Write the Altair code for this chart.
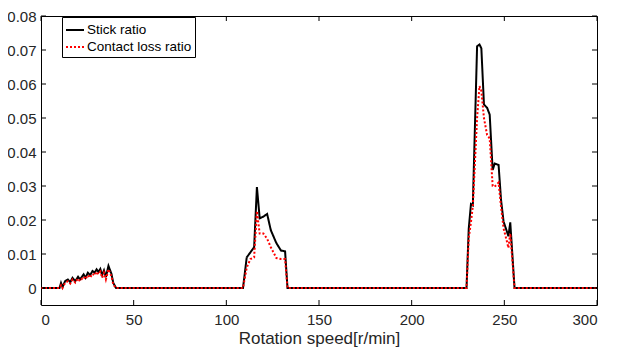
import altair as alt
import pandas as pd

speed = [0, 10, 10.8, 11.6, 13, 14.5, 15.8, 17, 18.5, 20, 21, 23, 24, 25.3, 26.5, 27.8, 29, 30, 31, 32, 33, 34, 35, 36.4, 38, 39, 40.5,
         109, 111, 113, 115, 116.5, 118, 120, 122, 124, 127, 129.5, 131.7, 133,
         229.6, 230.8, 232, 233, 235.3, 236.6, 237.6, 239, 240.7, 242.1, 243.7, 244.8, 246.9, 248.2, 249.6, 251.4, 252.2, 253.2, 255.5, 300]

stick = [0, 0, 0.0015, 0.0003, 0.002, 0.0025, 0.0017, 0.003, 0.002, 0.0033, 0.0025, 0.004, 0.003, 0.0045, 0.0038, 0.005, 0.0045, 0.0055, 0.0047, 0.0056, 0.0038, 0.0052, 0.0032, 0.0065, 0.0042, 0.0015, 0,
         0, 0.009, 0.0105, 0.012, 0.0297, 0.0205, 0.021, 0.0218, 0.017, 0.0132, 0.011, 0.0108, 0,
         0, 0.0175, 0.0247, 0.0243, 0.0711, 0.0716, 0.0705, 0.054, 0.053, 0.051, 0.0347, 0.0366, 0.0362, 0.026, 0.0195, 0.0166, 0.0152, 0.0193, 0, 0]

contact = [0, 0, 0.0008, 0, 0.0015, 0.002, 0.0013, 0.0025, 0.0016, 0.0028, 0.002, 0.0033, 0.0026, 0.0038, 0.003, 0.0042, 0.0037, 0.0048, 0.004, 0.0048, 0.003, 0.0045, 0.0025, 0.0055, 0.0035, 0.001, 0,
           0, 0.006, 0.0085, 0.009, 0.0226, 0.016, 0.016, 0.0145, 0.012, 0.0088, 0.0085, 0.0085, 0,
           0, 0.0147, 0.0194, 0.024, 0.05, 0.0594, 0.058, 0.05, 0.045, 0.044, 0.03, 0.0298, 0.031, 0.024, 0.0175, 0.0137, 0.0118, 0.016, 0, 0]

series = ["Stick ratio", "Contact loss ratio"]
x_ticks = [0, 50, 100, 150, 200, 250, 300]
y_ticks = [0, 0.01, 0.02, 0.03, 0.04, 0.05, 0.06, 0.07, 0.08]

df = pd.concat([
    pd.DataFrame({"speed": speed, "value": stick, "series": series[0], "k": 0}),
    pd.DataFrame({"speed": speed, "value": contact, "series": series[1], "k": 1}),
])

W, H = 556, 289
FONT = "Liberation Sans"
TXT = "#262626"

x_scale = alt.Scale(domain=[0, 300], nice=False, zero=False)
y_scale = alt.Scale(domain=[-0.005, 0.08], nice=False, zero=False)

x_axis = alt.Axis(values=x_ticks, ticks=False, grid=False, domain=False,
                  labelFont=FONT, labelFontSize=15, labelColor=TXT, labelPadding=7,
                  title="Rotation speed[r/min]", titleFont=FONT, titleFontSize=17,
                  titleFontWeight="normal", titleColor=TXT, titlePadding=3)
y_axis = alt.Axis(values=y_ticks, ticks=False, grid=False, domain=False,
                  labelFont=FONT, labelFontSize=15, labelColor=TXT, labelPadding=5,
                  labelExpr="datum.value == 0 ? '0' : format(datum.value, '.2f')",
                  title="")

leg = alt.Legend(
    title=None, orient="none", legendX=21, legendY=1,
    fillColor="white", strokeColor="black", padding=3,
    symbolType="stroke", symbolSize=324, symbolStrokeWidth=2,
    labelFont=FONT, labelFontSize=13.5, labelColor="black",
    rowPadding=0, labelOffset=2,
)

lines = alt.Chart(df).mark_line(strokeWidth=2, clip=True).encode(
    x=alt.X("speed:Q", scale=x_scale, axis=x_axis),
    y=alt.Y("value:Q", scale=y_scale, axis=y_axis),
    color=alt.Color("series:N", scale=alt.Scale(domain=series, range=["#000000", "#ff0000"]), legend=leg),
    strokeDash=alt.StrokeDash("series:N", scale=alt.Scale(domain=series, range=[[1, 0], [2, 2]]), legend=leg),
    order="k:Q",
)

xt = pd.DataFrame({"speed": x_ticks})
yt = pd.DataFrame({"value": y_ticks})

xb = alt.Chart(xt).mark_rule(color="black", strokeWidth=1).encode(
    x=alt.X("speed:Q", scale=x_scale, axis=x_axis), y=alt.value(H), y2=alt.value(H - 5))
xtop = alt.Chart(xt).mark_rule(color="black", strokeWidth=1).encode(
    x=alt.X("speed:Q", scale=x_scale, axis=x_axis), y=alt.value(0), y2=alt.value(5))
yl = alt.Chart(yt).mark_rule(color="black", strokeWidth=1).encode(
    y=alt.Y("value:Q", scale=y_scale, axis=y_axis), x=alt.value(0), x2=alt.value(5))
yr = alt.Chart(yt).mark_rule(color="black", strokeWidth=1).encode(
    y=alt.Y("value:Q", scale=y_scale, axis=y_axis), x=alt.value(W - 5), x2=alt.value(W))

chart = alt.layer(lines, xb, xtop, yl, yr).properties(
    width=W, height=H,
    padding={"left": 33, "top": 8, "right": 12, "bottom": 44},
    autosize=alt.AutoSizeParams(type="none"),
    background="white",
).configure_view(stroke="black", strokeWidth=1)

chart.save("out.html", embed_options={"renderer": "svg", "actions": False})
